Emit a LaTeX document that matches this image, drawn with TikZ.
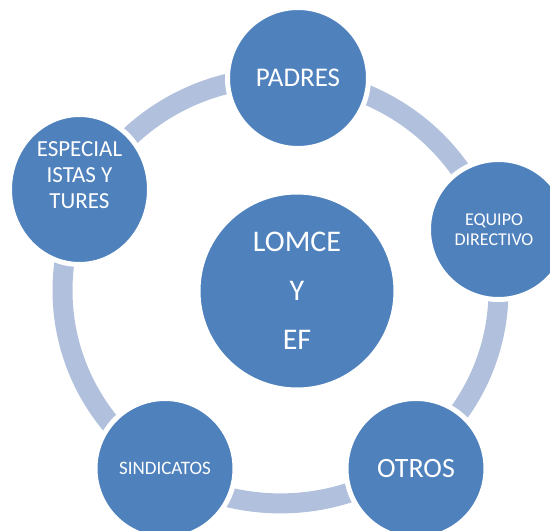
\documentclass[tikz,border=0pt]{standalone}
\usepackage{fontspec}
\setmainfont{Carlito}
\usetikzlibrary{shapes.geometric}
\definecolor{bubblue}{RGB}{79,129,189}
\definecolor{ringblue}{RGB}{177,193,221}
\begin{document}
\begin{tikzpicture}[x=1pt,y=-1pt,
  bubble/.style={circle, fill=bubblue, draw=white, line width=5pt, inner sep=0pt, text=white, align=center},
  oval/.style={ellipse, fill=bubblue, draw=white, line width=5pt, inner sep=0pt, text=white, align=center},
  ringline/.style={draw=ringblue, line width=20pt}]
\useasboundingbox (0,0) rectangle (550,531);
\clip (0,0) rectangle (550,531);
% ring behind the bubbles
\draw[ringline] (280.5,290.4) ellipse [x radius=218pt, y radius=213pt];
% centre
\node[bubble, minimum size=198pt, font=\fontsize{30}{49}\selectfont] (lomce) at (297,291) {LOMCE\\Y\\EF};
% outer bubbles
\node[bubble, minimum size=141pt, font=\fontsize{27}{32}\selectfont] (padres) at (298,78) {PADRES};
\node[bubble, minimum size=140pt,
  label={[text=white, align=center, font=\fontsize{18}{20}\selectfont, xshift=-4.5pt]center:EQUIPO\\DIRECTIVO}] (equipo) at (498.5,229.5) {};
\node[bubble, minimum size=140pt, font=\fontsize{28}{33}\selectfont] (otros) at (416,468.5) {OTROS};
\node[bubble, minimum size=140pt, font=\fontsize{19}{23}\selectfont] (sind) at (165,468.5) {SINDICATOS};
\node[oval, minimum width=140pt, minimum height=150pt,
  label={[text=white, align=center, font=\fontsize{23}{26}\selectfont, yshift=14.5pt]center:ESPECIAL\\ISTAS Y\\TURES}] (espec) at (79.5,189.5) {};
\end{tikzpicture}
\end{document}
